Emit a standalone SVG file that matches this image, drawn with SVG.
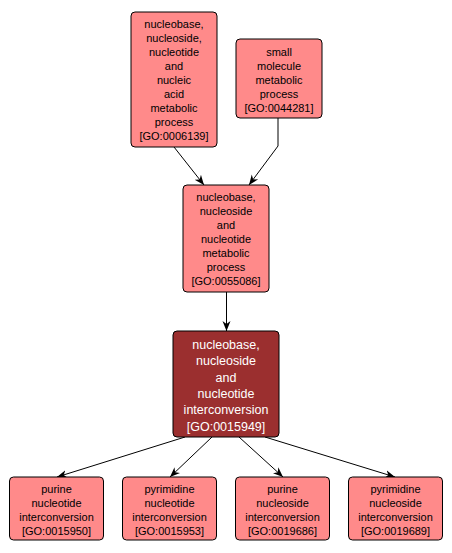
<svg xmlns="http://www.w3.org/2000/svg" width="452" height="553" viewBox="0 0 452 553">
<style>
.n rect{fill:#ff8a8a;stroke:#000;stroke-width:1}
.d rect{fill:#9b2f2f;stroke:#000;stroke-width:1}
text{font-family:"Liberation Sans",Arial,sans-serif;font-size:11px;text-anchor:middle;fill:#000}
.d text{fill:#fff;font-size:12.5px}
.e path{fill:none;stroke:#000;stroke-width:1;marker-end:url(#ah)}
</style>
<defs>
<marker id="ah" viewBox="0 0 10 10" refX="10" refY="5" markerWidth="10" markerHeight="10" markerUnits="userSpaceOnUse" orient="auto">
<path d="M0,1 L10,5 L0,9 L3,5 Z" fill="#000"/>
</marker>
</defs>
<rect width="452" height="553" fill="#fff"/>
<g class="e" id="edges">
<path d="M174,147 L204,185"/>
<path d="M278,118 L278,146 L249,185"/>
<path d="M226.5,292 L226.5,331"/>
<path d="M185,437 L57,477"/>
<path d="M212,437 L170,477"/>
<path d="M239,437 L283,477"/>
<path d="M265,437 L395,477"/>
</g>
<g class="n" id="GO0006139">
<rect x="131" y="12" width="86" height="135" rx="4"/>
<text x="174" y="28">nucleobase,</text>
<text x="174" y="42">nucleoside,</text>
<text x="174" y="56">nucleotide</text>
<text x="174" y="70">and</text>
<text x="174" y="84">nucleic</text>
<text x="174" y="98">acid</text>
<text x="174" y="112">metabolic</text>
<text x="174" y="126">process</text>
<text x="174" y="140">[GO:0006139]</text>
</g>
<g class="n" id="GO0044281">
<rect x="236" y="39" width="86" height="79" rx="4"/>
<text x="279" y="56">small</text>
<text x="279" y="70">molecule</text>
<text x="279" y="84">metabolic</text>
<text x="279" y="98">process</text>
<text x="279" y="112">[GO:0044281]</text>
</g>
<g class="n" id="GO0055086">
<rect x="183" y="185" width="86" height="107" rx="4"/>
<text x="226" y="201">nucleobase,</text>
<text x="226" y="215">nucleoside</text>
<text x="226" y="229">and</text>
<text x="226" y="243">nucleotide</text>
<text x="226" y="257">metabolic</text>
<text x="226" y="271">process</text>
<text x="226" y="285">[GO:0055086]</text>
</g>
<g class="d" id="GO0015949">
<rect x="173" y="331" width="106" height="106" rx="4"/>
<text x="226" y="348.5">nucleobase,</text>
<text x="226" y="365">nucleoside</text>
<text x="226" y="381.5">and</text>
<text x="226" y="397.5">nucleotide</text>
<text x="226" y="414">interconversion</text>
<text x="226" y="430.5">[GO:0015949]</text>
</g>
<g class="n" id="GO0015950">
<rect x="9.5" y="477" width="94" height="63" rx="4"/>
<text x="56.5" y="493">purine</text>
<text x="56.5" y="507">nucleotide</text>
<text x="56.5" y="521">interconversion</text>
<text x="56.5" y="535">[GO:0015950]</text>
</g>
<g class="n" id="GO0015953">
<rect x="122.5" y="477" width="94" height="63" rx="4"/>
<text x="169.5" y="493">pyrimidine</text>
<text x="169.5" y="507">nucleotide</text>
<text x="169.5" y="521">interconversion</text>
<text x="169.5" y="535">[GO:0015953]</text>
</g>
<g class="n" id="GO0019686">
<rect x="235.5" y="477" width="94" height="63" rx="4"/>
<text x="282.5" y="493">purine</text>
<text x="282.5" y="507">nucleoside</text>
<text x="282.5" y="521">interconversion</text>
<text x="282.5" y="535">[GO:0019686]</text>
</g>
<g class="n" id="GO0019689">
<rect x="348.5" y="477" width="94" height="63" rx="4"/>
<text x="395.5" y="493">pyrimidine</text>
<text x="395.5" y="507">nucleoside</text>
<text x="395.5" y="521">interconversion</text>
<text x="395.5" y="535">[GO:0019689]</text>
</g>
</svg>
